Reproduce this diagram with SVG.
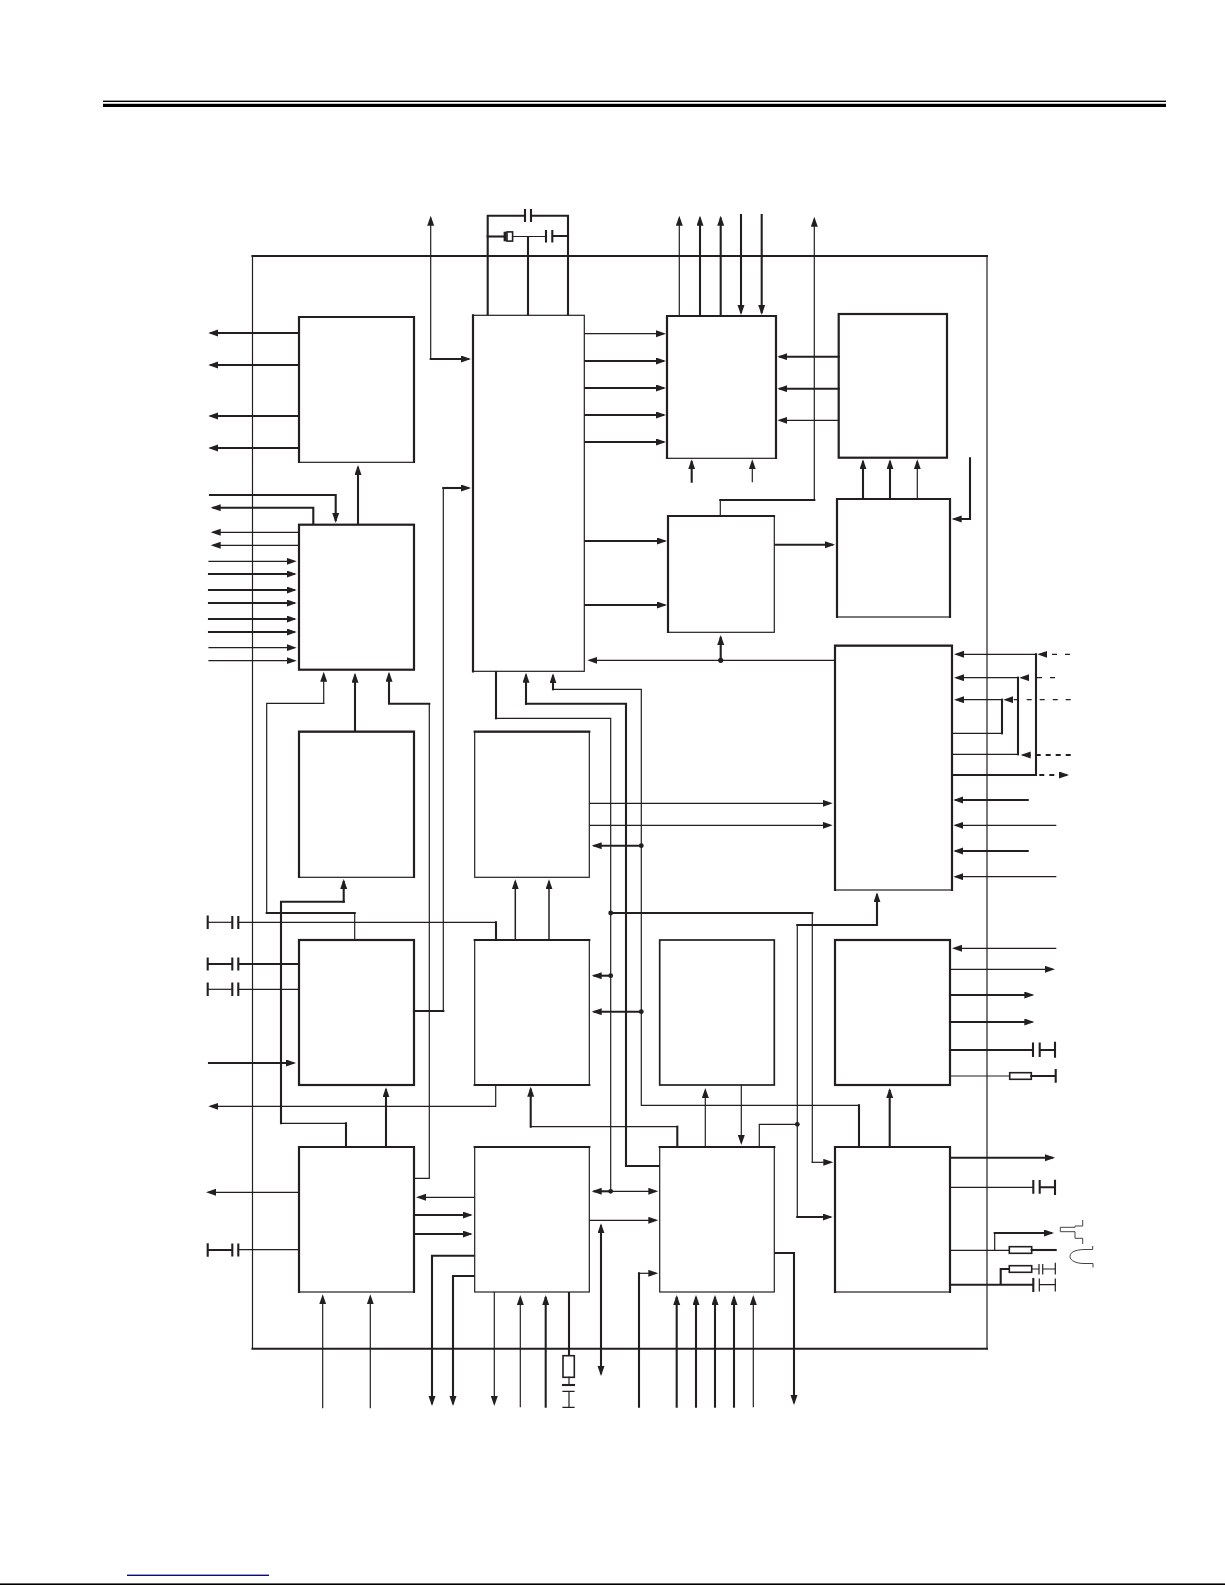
<svg xmlns="http://www.w3.org/2000/svg" width="1225" height="1585" viewBox="0 0 1225 1585">
<style>
.b{fill:#fff;stroke:#231f20;stroke-width:1.2}
.e{fill:none;stroke:#231f20;stroke-width:2.2;stroke-linecap:square}
.t,.k,.m,.df,.dk{fill:none;stroke:#231f20;stroke-linecap:square;stroke-linejoin:miter}
.t,.df{stroke-width:1.2}
.m{stroke-width:1.5}
.k,.dk{stroke-width:2.1}
.df{stroke-dasharray:5 8;stroke-linecap:butt}
.dk{stroke-dasharray:5 5;stroke-linecap:butt}
.a{marker-end:url(#ah)}
.bi{marker-start:url(#ah);marker-end:url(#ah)}
.r{fill:#fff;stroke:#231f20;stroke-width:1.6}
.w{fill:none;stroke:#444;stroke-width:1}
.dot{fill:#231f20}
</style>
<defs>
<marker id="ah" markerUnits="userSpaceOnUse" markerWidth="11" markerHeight="8" refX="7" refY="3.5" orient="auto-start-reverse"><path d="M0 0L10 3.5L0 7z" fill="#231f20"/></marker>
</defs>
<rect width="1225" height="1585" fill="#fff"/>
<g id="page-rules">
<rect x="103" y="100.6" width="1063" height="1.4" fill="#000"/>
<rect x="103" y="103.8" width="1063" height="3.2" fill="#000"/>
<rect x="127" y="1574.6" width="142" height="1.4" fill="#0000c8"/>
<rect x="0" y="1583.4" width="1225" height="1.6" fill="#000"/>
</g>
<g id="frame">
<path class="t" d="M252.5 1348.7V256M987 256V1348.7"/>
<path class="k" d="M252.5 256H987M252.5 1348.7H987"/>
</g>
<g id="connectors">
<!-- block A outputs -->
<path class="k a" d="M299 333H211.3"/><path class="k a" d="M299 365H211.3"/><path class="k a" d="M299 416H211.3"/><path class="k a" d="M299 448H211.3"/>
<!-- block B top -->
<path class="k a" d="M210 495H335.7V520"/><path class="k a" d="M313.3 524V507.7H213.7"/><path class="k a" d="M358 524V468"/>
<path class="t a" d="M299 532.3H213.7"/><path class="t a" d="M299 545.3H213.7"/>
<path class="t a" d="M209 561.3H293.7"/><path class="k a" d="M209 574H293.7"/><path class="k a" d="M209 590H293.7"/><path class="k a" d="M209 603H293.7"/><path class="k a" d="M209 619H293.7"/><path class="k a" d="M209 632H293.7"/><path class="t a" d="M209 647.7H293.7"/><path class="t a" d="M209 660.7H293.7"/>
<!-- crystal and caps -->
<path class="k" d="M487.7 315V215.7H525M531 215.7H568V315"/>
<path class="k" d="M525 210V221M531 210V221"/>
<path class="k" d="M487.7 236.5H504"/>
<rect x="503.6" y="231.7" width="3" height="9.6" fill="#231f20"/>
<rect x="507" y="231.9" width="5.6" height="9.2" class="r"/>
<path class="t" d="M513 236.5H546"/>
<path class="k" d="M546 231V241.5M552.3 231V241.5M552.3 236H568M528 237V315"/>
<!-- to main -->
<path class="t a" d="M430.7 359V218.7"/>
<path class="k a" d="M430.7 359H468"/>
<path class="k" d="M414 1011H443.3"/><path class="t" d="M443.3 1011V488"/><path class="k a" d="M443.3 488H468"/>
<!-- main to D and F -->
<path class="t a" d="M584.3 333.7H663"/><path class="k a" d="M584.3 361H663"/><path class="k a" d="M584.3 388H663"/><path class="k a" d="M584.3 415H663"/><path class="k a" d="M584.3 442H663"/>
<path class="k a" d="M584.3 541H664"/><path class="k a" d="M584.3 605H664"/>
<!-- D top -->
<path class="t a" d="M679.3 316V218.7"/><path class="k a" d="M700 316V218.7"/><path class="k a" d="M720.7 316V218.7"/><path class="k a" d="M741 215V312"/><path class="k a" d="M761.7 215V312"/>
<path class="t" d="M720.3 516V500"/><path class="k" d="M720.3 500H814.3"/><path class="t a" d="M814.3 500V219.7"/>
<!-- E to D -->
<path class="k a" d="M838.7 356.7H780.3"/><path class="k a" d="M838.7 388.7H780.3"/><path class="t a" d="M838.7 420.3H780.3"/>
<path class="k a" d="M691.7 481.7V462.3"/><path class="t a" d="M752.3 481.7V462.3"/>
<!-- G -->
<path class="k a" d="M863 499V462.3"/><path class="k a" d="M890 499V462.3"/><path class="t a" d="M917.3 499V462.3"/>
<path class="k a" d="M970 458.3V519H954.7"/>
<path class="k a" d="M774.3 544.7H832"/>
<path class="k a" d="M720.7 660V638"/>
<path class="t a" d="M835 660.3H590.3"/>
<!-- main bottom -->
<path class="k" d="M496 671.7V718.3"/><path class="t" d="M496 718.3H610.7V1191.3"/>
<path class="k a" d="M526 703.7V675.7"/><path class="k" d="M526 703.7H626V1166H659.7"/>
<path class="k a" d="M553 689.3V676.3"/><path class="t" d="M553 689.3H641.3V1105.3H859"/><path class="k" d="M859 1105.3V1147"/>
<path class="k a" d="M641.3 845.7H594.7"/><path class="k a" d="M610.7 975.7H594.7"/><path class="k a" d="M641.3 1011.7H594.7"/>
<path class="t a" d="M589.3 803.3H829.7"/><path class="t a" d="M589.3 825.3H829.7"/>
<path class="k" d="M610.7 913H812.3"/><path class="t" d="M812.3 913V1162.3"/><path class="t a" d="M812.3 1162.3H830.3"/>
<path class="k a" d="M797.3 925H877V895.3"/><path class="t" d="M797.3 925V1217"/><path class="k a" d="M797.3 1217H829.7"/>
<path class="t" d="M797.3 1124.3H759.3V1147"/>
<path class="k" d="M677.3 1147V1126.7"/><path class="t" d="M677.3 1126.7H530.7"/><path class="k a" d="M530.7 1126.7V1089.7"/>
<path class="t a" d="M705.3 1147V1091"/><path class="t a" d="M741.3 1085V1142"/>
<path class="k a" d="M889.7 1147V1091"/>
<!-- R right -->
<path class="k a" d="M950 1157.7H1052"/>
<path class="t" d="M950 1187.3H1033.3"/><path class="k" d="M1033.3 1181V1192.7M1039.7 1181V1192.7M1039.7 1187.3H1055M1055 1180.7V1194"/>
<path class="t" d="M950 1250.3H1009.3"/><rect x="1009.3" y="1246.7" width="22.4" height="6.6" class="r"/><path class="k" d="M1031.7 1250H1055.7"/>
<path class="t" d="M994.7 1250.3V1233"/><path class="k a" d="M994.7 1233H1051"/>
<path class="k" d="M950 1284.7H1033.3M1000.7 1284.7V1269H1009.3M1033.3 1279V1291"/>
<path class="t" d="M1039.3 1279V1291M1039.3 1284.7H1055.3"/>
<rect x="1009.3" y="1265.7" width="22.4" height="6.6" class="r"/>
<path class="t" d="M1031.7 1269H1039M1042.7 1269H1055.3M1039 1264.7V1274M1042.7 1264.7V1274M1055.3 1263.3V1274M1055.3 1279V1291"/>
<path class="w" d="M1082.7 1220V1226H1075V1227.3H1060.3V1231.7H1075V1238.3H1082.7V1244"/>
<path class="w" d="M1092.7 1246V1249.5H1086C1078 1249.5 1070 1251 1070 1256.5C1070 1260.5 1076 1263.5 1084 1263.5H1093V1267.5"/>
<!-- Q bottom and right -->
<path class="k a" d="M676.7 1406.7V1298"/><path class="k a" d="M696 1406.7V1298"/><path class="k a" d="M715 1406.7V1298"/><path class="k a" d="M734 1406.7V1298"/><path class="t a" d="M753.3 1406.7V1298"/>
<path class="k" d="M639 1406.7V1273.3"/><path class="t a" d="M639 1273.3H655.3"/>
<path class="k a" d="M774.3 1253H794V1402"/>
<!-- O -->
<path class="t a" d="M299 1192.3H209"/>
<path class="t" d="M299 1249.7H238.3"/><path class="k" d="M238.3 1244.5V1255.5M232.3 1244.5V1255.5M232.3 1250H207.7M207.7 1244.3V1255.7"/>
<path class="k" d="M346 1147V1123.3"/><path class="t" d="M346 1123.3H281"/><path class="k" d="M281 1123.3V901.7H343.7"/><path class="k a" d="M343.7 901.7V882"/>
<path class="k a" d="M386 1147V1090.3"/>
<path class="t" d="M414 1178.3H429.3V703.7"/><path class="k a" d="M429.3 703.7H389V674.7"/>
<path class="t a" d="M474.7 1197.3H419"/><path class="k a" d="M414 1215H469.7"/><path class="k a" d="M414 1234H469.7"/>
<path class="k a" d="M474.7 1255.7H432V1403"/><path class="k a" d="M474.7 1276H453V1403"/>
<path class="t a" d="M494.3 1292V1403"/><path class="t a" d="M520.3 1406.7V1298"/><path class="k a" d="M545.7 1406.7V1298"/>
<path class="k" d="M569 1292V1355.7"/><rect x="563" y="1355.7" width="11.3" height="21.6" class="r"/>
<path class="t" d="M569 1377.3V1385M569 1391.3V1407.3M563 1391.3H574M563 1407.3H574"/><path class="k" d="M563 1385H574"/>
<path class="t a" d="M322.7 1407.7V1297.3"/><path class="t a" d="M370.3 1407.7V1297.3"/>
<path class="k bi" d="M601 1226.3V1373"/>
<path class="k a" d="M610.7 1191.3H594.7"/><path class="t a" d="M610.7 1191.3H655.3"/><path class="t a" d="M589.3 1220.3H655.3"/>
<!-- B bottom -->
<path class="t a" d="M323.7 703.3V674.7"/><path class="t" d="M323.7 703.3H266.7V913"/><path class="k" d="M266.7 913H354.7"/><path class="t" d="M354.7 913V940"/>
<path class="k a" d="M355 731.7V675.7"/>
<!-- K left -->
<path class="t" d="M496 922.3H238.3"/><path class="k" d="M496 922.3V940"/>
<path class="k" d="M238.3 917V928M232.3 917V928"/><path class="t" d="M232.3 922.3H207.7"/><path class="k" d="M207.7 916.5V928"/>
<path class="k" d="M299 964H238.3M238.3 958.5V969.5M232.3 958.5V969.5M232.3 964H207.7M207.7 958.5V969.5"/>
<path class="t" d="M299 989.3H238.3"/><path class="k" d="M238.3 983.5V995M232.3 983.5V995M207.7 983.5V995"/><path class="t" d="M232.3 989.3H207.7"/>
<path class="k a" d="M209 1063H293"/>
<path class="m a" d="M515.3 940V882.3"/><path class="m a" d="M549 940V882.3"/>
<path class="t a" d="M495.7 1085V1106.3H211.3"/>
<!-- H right -->
<path class="t a" d="M1036 654.3H957"/><path class="df" d="M1070 654.3H1043"/><path class="t a" d="M1043 654.3H1040.3"/>
<path class="k" d="M1036 654.3V775H952"/><path class="dk" d="M1039.3 775H1062"/><path class="k a" d="M1062 775H1066"/>
<path class="t a" d="M1018 677.7H957"/><path class="df" d="M1055 677.7H1026"/><path class="t a" d="M1026 677.7H1022.3"/>
<path class="k" d="M1018 677.7V754.3"/><path class="t" d="M1018 754.3H952"/><path class="dk" d="M1070.7 755H1028"/><path class="k a" d="M1028 755H1023.7"/>
<path class="t a" d="M1002 699.7H957"/><path class="df" d="M1070.7 699.7H1010"/><path class="t a" d="M1010 699.7H1006.3"/>
<path class="k" d="M1002 699.7V733.3"/><path class="t" d="M1002 733.3H952"/>
<path class="k a" d="M1027.7 800H956.3"/><path class="t a" d="M1055.7 825.3H956.3"/><path class="k a" d="M1027.7 851H956.3"/><path class="t a" d="M1055.7 876.7H956.3"/>
<!-- N right -->
<path class="t a" d="M1055.7 948.3H955"/><path class="t a" d="M950 969.3H1052"/><path class="k a" d="M950 995H1031.3"/><path class="k a" d="M950 1022H1031.3"/>
<path class="k" d="M950 1050H1033M1033 1043.5V1056M1039.7 1043.5V1056M1039.7 1050H1055M1055 1042.7V1056.7"/>
<path class="t" d="M950 1076H1009.7"/><rect x="1009.7" y="1072.7" width="21.6" height="6.6" class="r"/><path class="k" d="M1031.3 1076H1055.7M1055.7 1070V1081.7"/>
<circle class="dot" cx="720.7" cy="660.3" r="2.6"/><circle class="dot" cx="641.3" cy="845.7" r="2.4"/><circle class="dot" cx="610.7" cy="913" r="2.4"/><circle class="dot" cx="610.7" cy="975.7" r="2.4"/><circle class="dot" cx="641.3" cy="1011.7" r="2.4"/><circle class="dot" cx="610.7" cy="1191.3" r="2.4"/><circle class="dot" cx="797.3" cy="1124.3" r="2.4"/>
</g>
<g id="block-a"><rect class="b" x="299" y="317" width="115" height="145.3"/><path class="e" d="M299 462V317H414V462"/></g>
<g id="block-b"><rect class="e" x="299" y="524.7" width="115" height="145"/></g>
<g id="block-c"><rect class="b" x="473" y="315.3" width="111.3" height="356"/><path class="e" d="M473 315.3V671.3"/></g>
<g id="block-d"><rect class="b" x="667" y="316" width="109" height="142.3"/><path class="e" d="M667 458V316H776V458"/></g>
<g id="block-e"><rect class="e" x="838.7" y="314" width="108.3" height="143.7"/></g>
<g id="block-f"><rect class="b" x="668" y="516" width="106.3" height="116.3"/><path class="e" d="M668 632V516H774"/></g>
<g id="block-g"><rect class="b" x="837" y="499" width="113" height="118"/><path class="e" d="M837 617V499H950V617"/></g>
<g id="block-h"><rect class="b" x="835" y="645.7" width="117" height="244.3"/><path class="e" d="M835 890V645.7H952V890"/></g>
<g id="block-i"><rect class="b" x="299" y="731.7" width="115" height="145.6"/><path class="e" d="M299 877V731.7H414V877"/></g>
<g id="block-j"><rect class="b" x="474.7" y="731.7" width="114.6" height="145.6"/><path class="e" d="M474.7 731.7H589.3"/></g>
<g id="block-k"><rect class="e" x="299" y="940" width="115" height="145"/></g>
<g id="block-l"><rect class="b" x="474.7" y="940" width="114.6" height="145"/><path class="e" d="M474.7 940H589.3M474.7 1085H589.3"/></g>
<g id="block-m"><rect class="e" x="659.7" y="940" width="114.6" height="145" style="stroke-width:1.7"/></g>
<g id="block-n"><rect class="e" x="835" y="940" width="115" height="145"/></g>
<g id="block-o"><rect class="b" x="299" y="1147" width="115" height="145"/><path class="e" d="M299 1292V1147H414V1292"/></g>
<g id="block-p"><rect class="b" x="474.7" y="1147" width="114.6" height="145"/><path class="e" d="M474.7 1147H589.3"/></g>
<g id="block-q"><rect class="b" x="659.7" y="1147" width="114.6" height="145"/><path class="e" d="M659.7 1147H774.3"/></g>
<g id="block-r"><rect class="b" x="835" y="1147" width="115" height="145"/><path class="e" d="M835 1292V1147H950V1292"/></g>
</svg>
